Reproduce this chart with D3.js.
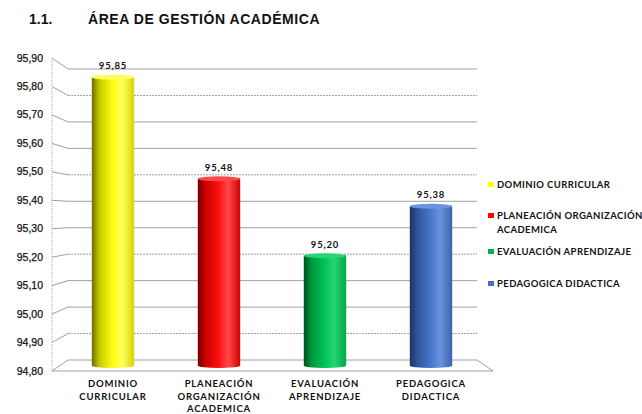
<!DOCTYPE html>
<html>
<head>
<meta charset="utf-8">
<script src="https://cdn.jsdelivr.net/npm/d3@7"></script>
<style>
  body { margin: 0; background: #fff; }
  svg { display: block; }
</style>
</head>
<body>
<div id="chart"></div>
<script>
// Dati
const categories = ['DOMINIO CURRICULAR', 'PLANEACIÓN ORGANIZACIÓN ACADEMICA', 'EVALUACIÓN APRENDIZAJE', 'PEDAGOGICA DIDACTICA'];
const values = [95.85, 95.48, 95.20, 95.38];
const axisLines = [['DOMINIO', 'CURRICULAR'], ['PLANEACIÓN', 'ORGANIZACIÓN', 'ACADEMICA'], ['EVALUACIÓN', 'APRENDIZAJE'], ['PEDAGOGICA', 'DIDACTICA']];
const legendLines = [['DOMINIO CURRICULAR'], ['PLANEACIÓN ORGANIZACIÓN', 'ACADEMICA'], ['EVALUACIÓN APRENDIZAJE'], ['PEDAGOGICA DIDACTICA']];
const yTicks = [94.8, 94.9, 95.0, 95.1, 95.2, 95.3, 95.4, 95.5, 95.6, 95.7, 95.8, 95.9];

const [width, height] = [642, 414];
const colors = ['#ffff00', '#ff0000', '#00b050', '#4472c4'];
const shades = [
  ['#6e6e00', '#c9c900', '#ffff14', '#ffff5a', '#d6d600'],
  ['#700000', '#c80000', '#ff1010', '#ff4a4a', '#d00000'],
  ['#00501c', '#00963c', '#00c458', '#26d670', '#00a848'],
  ['#1c3260', '#2f559a', '#4678cc', '#6a94dc', '#3a64b4']
];
const fmt = (v) => d3.format('.2f')(v).replace('.', ',');
const smallFont = 'bold 9.5px Lato, "Open Sans", sans-serif';

const svg = d3.select('#chart').append('svg')
  .attr('width', width)
  .attr('height', height);

// scale: parete frontale, parete di fondo, barre a metà profondità
const yFront = d3.scaleLinear().domain([94.8, 95.9]).range([371, 58]);
const yBack = d3.scaleLinear().domain([94.8, 95.9]).range([360, 69]);
const yBar = (v) => (yFront(v) + yBack(v)) / 2;
const x = d3.scaleBand().domain(categories).range([60, 484]).paddingInner(0.6).paddingOuter(0.3);
const [xFront, xBack, xRight, xRightFront] = [52, 68, 477, 493];

// titolo
svg.append('text').attr('x', 29).attr('y', 24)
  .style('font', 'bold 14px "Liberation Sans", Arial, sans-serif').attr('fill', '#111')
  .text('1.1.');
svg.append('text').attr('x', 88).attr('y', 24)
  .style('font', 'bold 14px "Liberation Sans", Arial, sans-serif').attr('fill', '#111')
  .style('letter-spacing', '0.55px')
  .text('ÁREA DE GESTIÓN ACADÉMICA');

// griglia
const grid = svg.append('g');
grid.selectAll('.back').data(yTicks.slice(1)).enter().append('line')
  .attr('x1', xBack).attr('x2', xRight)
  .attr('y1', (d) => yBack(d)).attr('y2', (d) => yBack(d))
  .attr('stroke', '#a0a0a0').attr('stroke-width', 1)
  .attr('stroke-dasharray', (d, i) => (i % 3 === 0 ? '2,1' : null));
grid.selectAll('.side').data(yTicks).enter().append('line')
  .attr('x1', xFront).attr('x2', xBack)
  .attr('y1', (d) => yFront(d)).attr('y2', (d) => yBack(d))
  .attr('stroke', '#a0a0a0').attr('stroke-width', 1);
grid.append('line')
  .attr('x1', xFront).attr('x2', xFront)
  .attr('y1', yFront(95.9)).attr('y2', yFront(94.8))
  .attr('stroke', '#a8a8a8').attr('stroke-dasharray', '1,1');
// pavimento
grid.append('path')
  .attr('d', `M${xBack},${yBack(94.8)}H${xRight}L${xRightFront},${yFront(94.8)}H${xFront}`)
  .attr('fill', 'none').attr('stroke', '#a0a0a0');

// etichette asse y
svg.append('g').selectAll('text').data(yTicks).enter().append('text')
  .attr('x', 43).attr('y', (d) => yFront(d) + 3.5)
  .attr('text-anchor', 'end')
  .style('font', '10.5px "Liberation Sans", Arial, sans-serif').attr('fill', '#111')
  .attr('stroke', '#111').attr('stroke-width', 0.25)
  .text(fmt);

// gradienti
const defs = svg.append('defs');
shades.forEach((s, i) => {
  const g = defs.append('linearGradient').attr('id', `grad${i}`)
    .attr('x1', '0%').attr('x2', '100%').attr('y1', '0%').attr('y2', '0%');
  [0, 18, 50, 72, 100].forEach((o, j) => {
    g.append('stop').attr('offset', `${o}%`).attr('stop-color', s[j]);
  });
});

// barre cilindriche
const bw = x.bandwidth();
const bars = svg.append('g').selectAll('g').data(values).enter().append('g');
bars.append('ellipse')
  .attr('cx', (d, i) => x(categories[i]) + bw / 2).attr('cy', yBar(94.8))
  .attr('rx', bw / 2).attr('ry', 2.5)
  .attr('fill', (d, i) => `url(#grad${i})`);
bars.append('rect')
  .attr('x', (d, i) => x(categories[i])).attr('width', bw)
  .attr('y', (d) => yBar(d)).attr('height', (d) => yBar(94.8) - yBar(d))
  .attr('fill', (d, i) => `url(#grad${i})`);
bars.append('ellipse')
  .attr('cx', (d, i) => x(categories[i]) + bw / 2).attr('cy', (d) => yBar(d))
  .attr('rx', bw / 2).attr('ry', 2.5)
  .attr('fill', (d, i) => shades[i][3]);

// valori
svg.append('g').selectAll('text').data(values).enter().append('text')
  .attr('x', (d, i) => x(categories[i]) + bw / 2).attr('y', (d) => yBar(d) - 8)
  .attr('text-anchor', 'middle')
  .style('font', smallFont).style('letter-spacing', '0.8px').attr('fill', '#111')
  .text(fmt);

// etichette categorie
const cat = svg.append('g').selectAll('text').data(axisLines).enter().append('text')
  .attr('text-anchor', 'middle')
  .attr('x', (d, i) => x(categories[i]) + bw / 2)
  .style('font', smallFont).style('letter-spacing', '0.8px').attr('fill', '#111');
cat.selectAll('tspan').data((d) => d).enter().append('tspan')
  .attr('x', function () { return d3.select(this.parentNode).attr('x'); })
  .attr('y', (d, j) => 387 + j * 12.5)
  .text((d) => d);

// legenda
const legendY = [184, 215, 251, 283];
const leg = svg.append('g').selectAll('g').data(legendLines).enter().append('g');
leg.append('rect')
  .attr('x', 488).attr('y', (d, i) => legendY[i] - 2)
  .attr('width', 6).attr('height', 5)
  .attr('fill', (d, i) => colors[i]);
leg.append('text')
  .style('font', smallFont).style('letter-spacing', '0.4px').attr('fill', '#111')
  .selectAll('tspan').data((d, i) => d.map((t) => [t, i])).enter().append('tspan')
  .attr('x', 497).attr('y', (d, j) => legendY[d[1]] + 3.5 + j * 14)
  .text((d) => d[0]);
</script>
</body>
</html>
